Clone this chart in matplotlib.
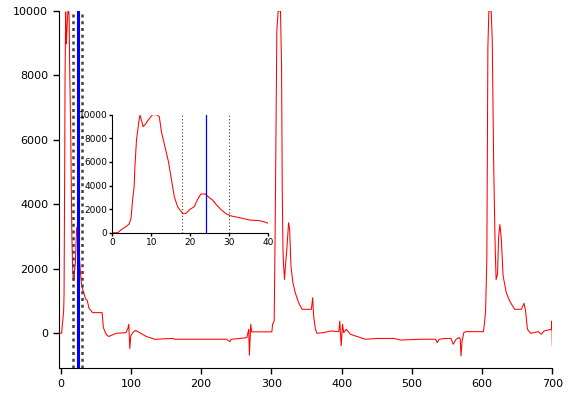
import matplotlib.pyplot as plt

# Данные сигнала
x_vals = [0, 1.4, 2.4, 3.7, 4.3, 4.8, 5.2, 5.6, 5.8, 6.2, 6.8, 7.1, 7.35, 7.9, 8.5, 9.2,
          10.3, 11.4, 12.05, 12.6, 13.5, 14.4, 15.2, 15.9, 16.75, 18.0, 18.9, 19.9, 21.0,
          21.8, 22.7, 23.9, 24.6, 25.7, 26.75, 28.0, 29.3, 30.6, 32.7, 35.3, 37.8, 39.6, 40,
          45.5, 59, 60.8, 64.7, 68.4, 79, 93, 95.6, 97, 98.4, 99.8, 102.7, 106.6, 112.3,
          122, 134, 160, 162, 236, 241, 243, 255, 265, 267.8, 268.7, 270.6, 272, 275,
          300.7, 301.7, 304, 305.4, 306.9, 307.8, 309.7, 313, 314.5, 315.5, 316.5, 317.3,
          318.7, 320, 322, 323.5, 324.5, 326, 327.9, 330.7, 334, 338.8, 343.6, 357, 358.8,
          360.2, 362.7, 365, 374.5, 384, 396, 397.4, 399.4, 401.3, 403, 406.6, 412.7, 422,
          434, 451, 474.7, 484, 513, 534, 536, 539, 548.6, 555.7, 559, 563, 567.7, 569,
          570, 571.6, 574, 577, 602, 603.5, 605, 606.8, 608.3, 609.7, 613, 614.5, 616.4,
          617.4, 618.7, 620, 622, 623.5, 625.4, 627.3, 630, 634.5, 639.3, 646.4, 656,
          659.8, 662, 664.6, 669.3, 680, 684.7, 688, 699, 699.5, 700]
y_vals = [0, 0, 280, 565, 735, 1215, 2770, 3900, 5590, 7850, 9400, 9970, 9690, 8980, 9200, 9550,
          10000, 10000, 9830, 8560, 7290, 6020, 4460, 3050, 2200, 1640, 1640, 1980, 2200,
          2770, 3280, 3280, 3050, 2770, 2345, 1920, 1580, 1410, 1270, 1070, 1020, 850, 790,
          640, 640, 175, -30, -100, 0, 20, 145, 280, -475, -80, 20, 90, 20,
          -100, -185, -160, -185, -185, -260, -185, -160, -135, 125, -680, 280, 40, 45,
          45, 280, 380, 3220, 7040, 9410, 10000, 10000, 8275, 4460, 2600, 2140,
          1670, 2080, 2600, 3120, 3430, 3220, 2080, 1570, 1260, 950, 745, 745, 1105,
          535, 125, 0, 20, 70, 50, 380, -390, 280, 20, 125, -30, -100,
          -185, -160, -160, -210, -185, -185, -290, -185, -160, -160, -340, -185, -130, -185,
          -700, -240, 20, 50, 50, 330, 690, 2290, 8895, 10000, 10000, 9100, 5490,
          4150, 2650, 1670, 1830, 2960, 3375, 2960, 1775, 1260, 1000, 745, 745,
          930, 690, 125, 0, 50, -30, 70, 125, 380, -370]

# Положение маркеров
marker_left = 18
marker_center = 24
marker_right = 30

x_ticks = [0, 100, 200, 300, 400, 500, 600, 700]
y_ticks = [0, 2000, 4000, 6000, 8000, 10000]
inset_x_ticks = [0, 10, 20, 30, 40]


def style_axes(ax, size, length, pad):
    """Оставляет только левую и нижнюю оси"""
    ax.spines['top'].set_visible(False)
    ax.spines['right'].set_visible(False)
    ax.tick_params(direction='out', length=length, width=1, labelsize=size, pad=pad)


fig = plt.figure(figsize=(5.75, 4.04), dpi=100)

# Основной график
ax = fig.add_axes([0.1031, 0.0899, 0.8574, 0.8829])
ax.plot(x_vals, y_vals, color='red', linewidth=0.75)
ax.axvline(marker_left, color='#404040', linewidth=1.8, linestyle=(0, (1.2, 1.5)))
ax.axvline(marker_right, color='#404040', linewidth=1.8, linestyle=(0, (1.2, 1.5)))
ax.axvline(marker_center, color='#0000ff', linewidth=2.2)
ax.set_xlim(-2, 700)
ax.set_ylim(-1067, 10000)
ax.set_xticks(x_ticks)
ax.set_yticks(y_ticks)
style_axes(ax, 8, 4, 4)

# Вставка с увеличенным фрагментом
axin = fig.add_axes([0.1953, 0.424, 0.2713, 0.292])
axin.plot(x_vals, y_vals, color='red', linewidth=0.75)
axin.axvline(marker_left, color='#404040', linewidth=0.8, linestyle=(0, (1, 2)))
axin.axvline(marker_right, color='#404040', linewidth=0.8, linestyle=(0, (1, 2)))
axin.axvline(marker_center, color='#0000ff', linewidth=0.9)
axin.set_xlim(0, 40)
axin.set_ylim(0, 10000)
axin.set_xticks(inset_x_ticks)
axin.set_yticks(y_ticks)
axin.patch.set_alpha(0)
style_axes(axin, 6.5, 2.5, 1)

fig.savefig('out.png', dpi=100)
